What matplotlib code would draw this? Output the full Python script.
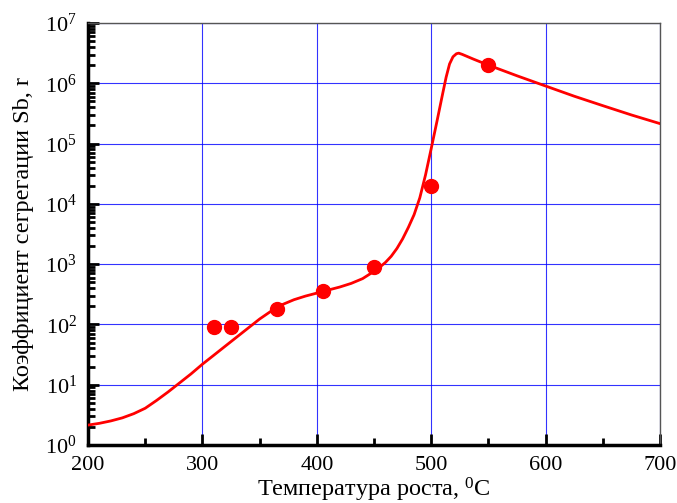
import numpy as np
import matplotlib
matplotlib.use("Agg")
import matplotlib.pyplot as plt
from matplotlib.ticker import (LogLocator, MultipleLocator, LogFormatterSciNotation,
                               NullFormatter)

plt.rcParams["font.family"] = ["Liberation Serif", "DejaVu Serif"]
plt.rcParams["mathtext.fontset"] = "custom"
plt.rcParams["mathtext.rm"] = "Liberation Serif"
plt.rcParams["mathtext.it"] = "Liberation Serif:italic"

# ── Data ──────────────────────────────────────────────────────────────────────
# experimental points
t_exp = [310, 325, 365, 405, 450, 500, 550]
r_exp = [90, 90, 180, 355, 900, 2.0e4, 2.0e6]

# model curve
t_fit = [200, 210, 220, 230, 240, 250, 260, 270, 280, 290, 300, 310, 320,
         330, 340, 350, 360, 370, 380, 390, 400, 410, 420, 430, 440, 445,
         450, 455, 460, 465, 470, 475, 480, 485, 490, 495, 500, 505, 510,
         513, 516, 519, 522, 524, 527, 537, 543, 550, 575, 600, 625, 650,
         675, 700]
r_fit = [2.14, 2.29, 2.51, 2.82, 3.31, 4.07, 5.50, 7.59, 10.7, 15.1, 21.9,
         30.9, 43.7, 61.7, 87.1, 123, 166, 214, 257, 295, 331, 372, 417, 479,
         575, 661, 759, 891, 1070, 1350, 1820, 2630, 4070, 6610, 1.26e4,
         3.02e4, 8.32e4, 2.34e5, 6.76e5, 1.26e6, 2.09e6, 2.75e6, 3.09e6,
         3.16e6, 3.02e6, 2.51e6, 2.26e6, 2.0e6, 1.33e6, 9.0e5, 6.1e5, 4.25e5,
         2.98e5, 2.14e5]

y_ticks = [1, 10, 100, 1e3, 1e4, 1e5, 1e6, 1e7]

# ── Plot ──────────────────────────────────────────────────────────────────────
fig = plt.figure(figsize=(6.77, 5.03), dpi=100)
ax = fig.add_axes([0.130, 0.1153, 0.845, 0.839])

ax.plot(t_fit, r_fit, color="#ff0000", lw=2.0, zorder=3)
ax.plot(t_exp, r_exp, "o", color="#ff0000", ms=10, zorder=4)

ax.set_yscale("log")
ax.set_xlim(200, 700)
ax.set_ylim(1, 1e7)

ax.xaxis.set_major_locator(MultipleLocator(100))
ax.xaxis.set_minor_locator(MultipleLocator(50))
ax.set_yticks(y_ticks)
ax.yaxis.set_minor_locator(LogLocator(base=10, subs=np.arange(2, 10), numticks=20))
ax.yaxis.set_major_formatter(LogFormatterSciNotation())
ax.yaxis.set_minor_formatter(NullFormatter())

ax.grid(True, which="major", color="#0000ff", lw=0.8, alpha=0.8, zorder=1)
ax.set_axisbelow(True)

ax.tick_params(which="both", direction="in", top=False, right=False,
               labelsize=16, width=2, labelfontfamily="Liberation Serif")
ax.tick_params(which="major", length=8)
ax.tick_params(which="minor", length=5)
ax.tick_params(axis="x", which="major", pad=8)
ax.tick_params(axis="y", which="major", pad=8)

for side in ["left", "bottom"]:
    ax.spines[side].set_linewidth(2.5)
    ax.spines[side].set_color("black")
for side in ["top", "right"]:
    ax.spines[side].set_linewidth(1.0)
    ax.spines[side].set_color("#555555")

# axis titles placed on the figure so they sit where the original has them
fig.text(0.552, 0.0125, "Температура роста, $^0$C", fontsize=17.5,
         ha="center", va="baseline")
fig.text(0.034, 0.535, "Коэффициент сегрегации Sb, r", fontsize=17.5,
         rotation=90, ha="center", va="center")

fig.savefig("out.png", dpi=100)
